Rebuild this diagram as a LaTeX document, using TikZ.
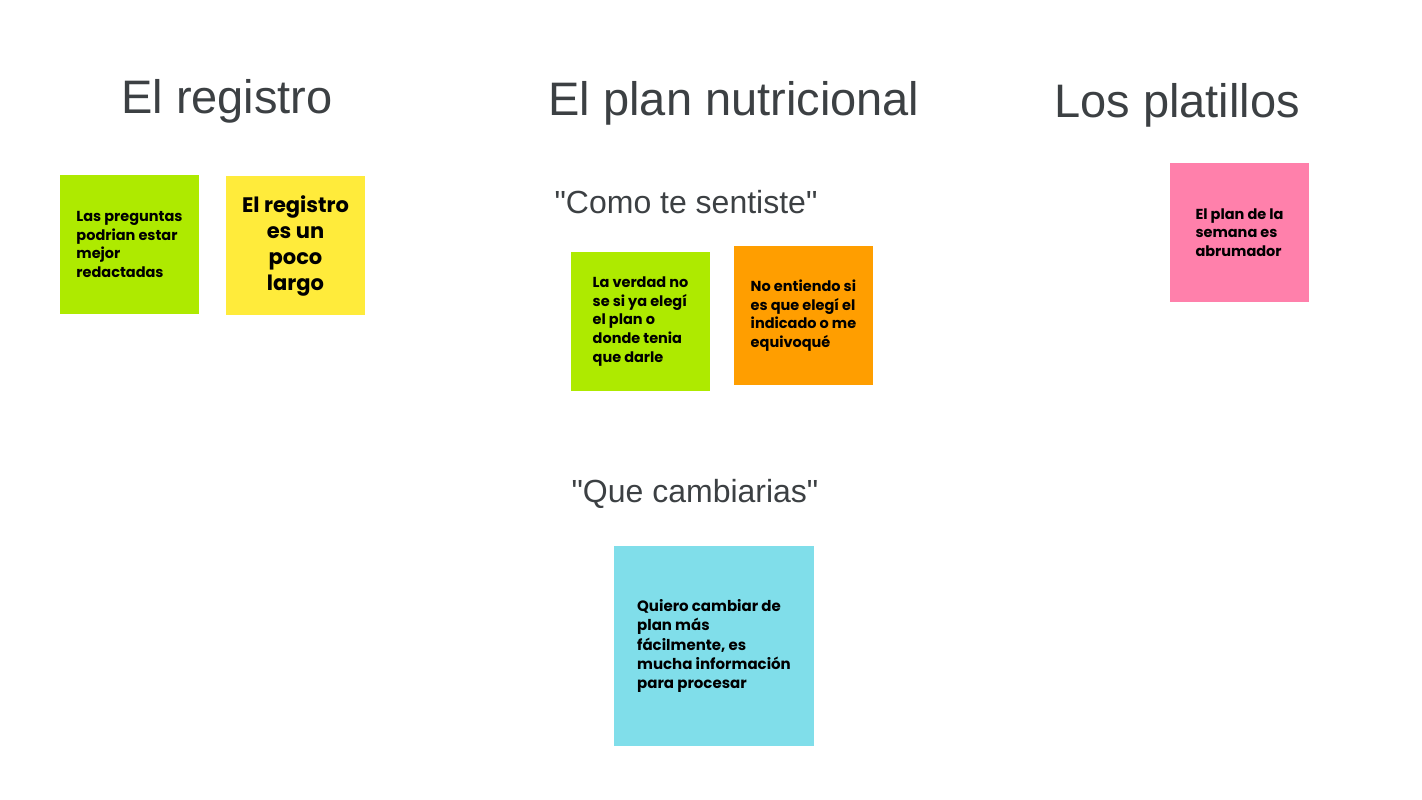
\documentclass[tikz,border=0pt]{standalone}
\usepackage{fontspec}
\setmainfont{Liberation Sans}
\newfontfamily\notefont{Poppins}
\usetikzlibrary{positioning}
\definecolor{titlegray}{HTML}{3C4043}
\definecolor{limegreen}{HTML}{AEEA00}
\definecolor{noteyellow}{HTML}{FFEB3B}
\definecolor{noteorange}{HTML}{FF9E00}
\definecolor{notepink}{HTML}{FF80AB}
\definecolor{notecyan}{HTML}{80DEEA}

\begin{document}
\begin{tikzpicture}[x=1pt,y=1pt,
		  title/.style={text=titlegray, font=\fontsize{47}{53}\selectfont},
		  question/.style={text=titlegray, font=\fontsize{32}{36}\selectfont},
		  note/.style={minimum width=139pt, minimum height=139pt, inner sep=0pt,
		  	align=left, font=\notefont\bfseries\fontsize{14.5}{18.6}\selectfont},
		  bignote/.style={note, align=center, font=\notefont\bfseries\fontsize{21}{26}\selectfont}]
		  \useasboundingbox (0,0) rectangle (1422,-800);
		  % titulos
		  \node[title] (registro) at (227,-101) {El registro};
		  \node[title] (plan) at (734,-103) {El plan nutricional};
		  \node[title] (platillos) at (1177,-105) {Los platillos};
		  \node[question] (sentiste) at (686,-202) {\textquotedbl Como te sentiste\textquotedbl};
		  \node[question] (cambiarias) at (695,-494) {\textquotedbl Que cambiarias\textquotedbl};
		  % notas
		  \node[note, fill=limegreen] (preguntas) at (129.5,-244.5)
		  	{Las preguntas\\podrian estar\\mejor\\redactadas};
		  \node[bignote, fill=noteyellow] (largo) at (295.5,-245.5)
		  	{El registro\\es un\\poco\\largo};
		  \node[note, fill=limegreen] (verdad) at (640.5,-321.5)
		  	{La verdad no\\se si ya elegí\\el plan o\\donde tenia\\que darle};
		  \node[note, fill=noteorange] (entiendo) at (803.5,-315.5)
		  	{No entiendo si\\es que elegí el\\indicado o me\\equivoqué};
		  \node[note, fill=notepink] (semana) at (1239.5,-232.5)
		  	{El plan de la\\semana es\\abrumador};
		  \node[note, fill=notecyan, minimum width=200pt, minimum height=200pt,
		  	font=\notefont\bfseries\fontsize{15}{19.3}\selectfont] (cambiar) at (714,-646)
		  	{Quiero cambiar de\\plan más\\fácilmente, es\\mucha información\\para procesar};
\end{tikzpicture}
\end{document}
